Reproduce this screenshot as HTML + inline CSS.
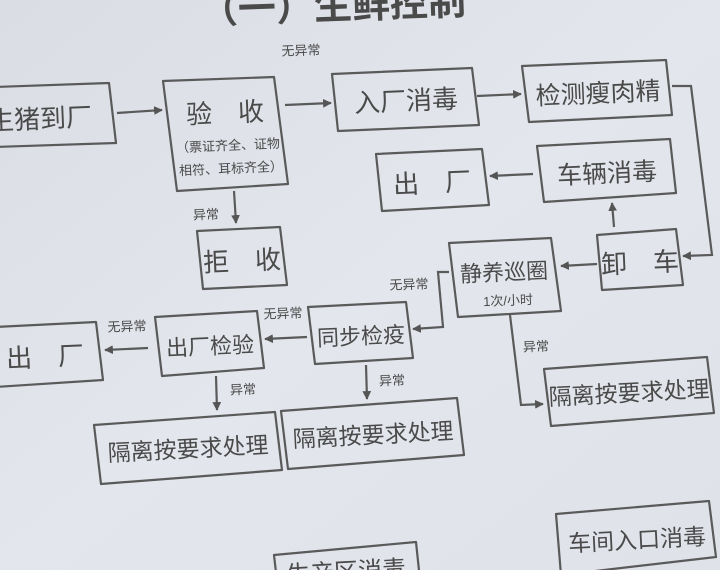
<!DOCTYPE html>
<html><head><meta charset="utf-8"><style>
html,body{margin:0;padding:0;background:#e0e3ea;}
svg{display:block}
text{font-family:"Liberation Sans","Noto Sans CJK SC",sans-serif;fill:#4a4a4a;}
</style></head><body>
<svg width="720" height="570" viewBox="0 0 720 570" xmlns="http://www.w3.org/2000/svg">
<defs>
<linearGradient id="bg" x1="0" y1="0" x2="1" y2="1">
<stop offset="0" stop-color="#dadde4"/><stop offset="0.5" stop-color="#e3e6ec"/><stop offset="1" stop-color="#dfe2e9"/>
</linearGradient>
<marker id="ar" viewBox="0 0 10 10" refX="9" refY="5" markerWidth="4" markerHeight="4" orient="auto"><path d="M0,0 L10,5 L0,10 z" fill="#555"/></marker>
</defs>
<rect width="720" height="570" fill="url(#bg)"/>
<g fill="none" stroke="#5a5a5a" stroke-width="2.2" stroke-linejoin="round">
<polygon points="-5,87 109,83 116,143 -5,147"/>
<polygon points="163,81 274,77 288,184 177,191"/>
<polygon points="332,74 472,68 479,125 338,131"/>
<polygon points="522,66 666,60 672,115 529,122"/>
<polygon points="537,146 670,139 676,193 544,202"/>
<polygon points="376,154 482,149 489,205 382,211"/>
<polygon points="197,231 280,227 287,285 203,289"/>
<polygon points="597,235 676,229 683,285 602,290"/>
<polygon points="449,243 551,238 561,311 458,317"/>
<polygon points="308,307 406,302 413,358 315,364"/>
<polygon points="155,317 257,311 264,368 162,376"/>
<polygon points="-5,327 96,322 103,380 -5,387"/>
<polygon points="94,425 275,412 282,470 101,484"/>
<polygon points="281,411 457,398 464,455 288,469"/>
<polygon points="544,369 707,357 714,413 551,426"/>
<polygon points="556,514 709,501 716,557 561,575"/>
<polygon points="274,555 416,542 420,580 278,590"/>
</g>
<g fill="none" stroke="#5a5a5a" stroke-width="2.2" marker-end="url(#ar)">
<line x1="117" y1="113" x2="162" y2="110"/>
<line x1="285" y1="105" x2="331" y2="103"/>
<line x1="477" y1="96" x2="521" y2="94"/>
<polyline points="672,86 691,86 712,255 683,256"/>
<line x1="614" y1="227" x2="612" y2="203"/>
<line x1="533" y1="174" x2="490" y2="176"/>
<line x1="234" y1="191" x2="236" y2="223"/>
<line x1="597" y1="264" x2="561" y2="266"/>
<polyline points="449,272 438,272 443,327 413,329"/>
<line x1="307" y1="337" x2="265" y2="339"/>
<line x1="148" y1="348" x2="105" y2="350"/>
<line x1="216" y1="376" x2="217" y2="410"/>
<line x1="366" y1="365" x2="367" y2="399"/>
<polyline points="510,315 521,405 543,404"/>
</g>
<g>
<text x="200" y="20" font-size="38" font-weight="bold" fill="#555" transform="rotate(-2 300 10)">（一）生鲜控制</text>
<text x="40" y="128" font-size="26" text-anchor="middle" transform="rotate(-2.5 40 118)">生猪到厂</text>
<text x="225" y="122" font-size="26" text-anchor="middle" transform="rotate(-2.5 225 112)">验　收</text>
<text x="228" y="150" font-size="13" text-anchor="middle" transform="rotate(-2.5 228 145)">（票证齐全、证物</text>
<text x="231" y="173" font-size="13" text-anchor="middle" transform="rotate(-2.5 231 168)">相符、耳标齐全）</text>
<text x="301" y="55" font-size="13" text-anchor="middle" transform="rotate(-2 301 50)">无异常</text>
<text x="406" y="110" font-size="26" text-anchor="middle" transform="rotate(-2.5 406 100)">入厂消毒</text>
<text x="598" y="102" font-size="25" text-anchor="middle" transform="rotate(-2.5 598 92)">检测瘦肉精</text>
<text x="607" y="182" font-size="25" text-anchor="middle" transform="rotate(-2.5 607 172)">车辆消毒</text>
<text x="432" y="192" font-size="26" text-anchor="middle" transform="rotate(-2.5 432 182)">出　厂</text>
<text x="242" y="270" font-size="26" text-anchor="middle" transform="rotate(-2.5 242 260)">拒　收</text>
<text x="206" y="219" font-size="13" text-anchor="middle" transform="rotate(-2 206 214)">异常</text>
<text x="640" y="272" font-size="26" text-anchor="middle" transform="rotate(-2.5 640 262)">卸　车</text>
<text x="504" y="280" font-size="22" text-anchor="middle" transform="rotate(-2.5 504 271)">静养巡圈</text>
<text x="508" y="305" font-size="13" text-anchor="middle" transform="rotate(-2.5 508 300)">1次/小时</text>
<text x="409" y="289" font-size="13" text-anchor="middle" transform="rotate(-2 409 284)">无异常</text>
<text x="361" y="344" font-size="22" text-anchor="middle" transform="rotate(-2.5 361 335)">同步检疫</text>
<text x="283" y="318" font-size="13" text-anchor="middle" transform="rotate(-2 283 313)">无异常</text>
<text x="210" y="354" font-size="22" text-anchor="middle" transform="rotate(-2.5 210 345)">出厂检验</text>
<text x="127" y="331" font-size="13" text-anchor="middle" transform="rotate(-2 127 326)">无异常</text>
<text x="45" y="366" font-size="26" text-anchor="middle" transform="rotate(-2.5 45 356)">出　厂</text>
<text x="243" y="394" font-size="13" text-anchor="middle" transform="rotate(-2 243 389)">异常</text>
<text x="392" y="385" font-size="13" text-anchor="middle" transform="rotate(-2 392 380)">异常</text>
<text x="536" y="351" font-size="13" text-anchor="middle" transform="rotate(-2 536 346)">异常</text>
<text x="188" y="457" font-size="23" text-anchor="middle" transform="rotate(-3 188 448)">隔离按要求处理</text>
<text x="373" y="443" font-size="23" text-anchor="middle" transform="rotate(-3 373 434)">隔离按要求处理</text>
<text x="629" y="401" font-size="23" text-anchor="middle" transform="rotate(-3 629 392)">隔离按要求处理</text>
<text x="637" y="548" font-size="23" text-anchor="middle" transform="rotate(-3 637 539)">车间入口消毒</text>
<text x="346" y="580" font-size="24" text-anchor="middle" transform="rotate(-3 346 570)">生产区消毒</text>
</g>
</svg>
</body></html>
